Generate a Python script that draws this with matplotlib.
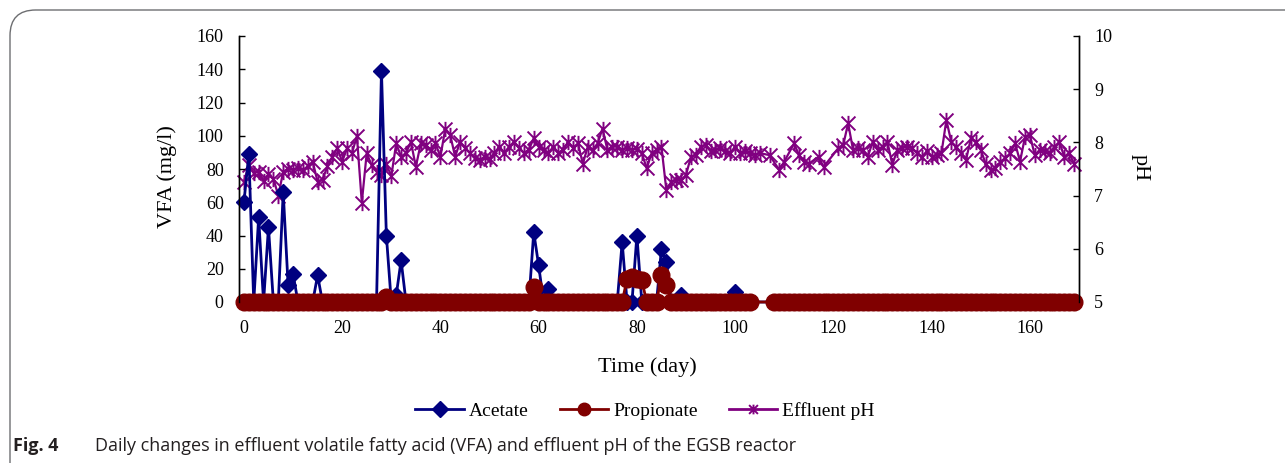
import matplotlib
matplotlib.use("Agg")
import matplotlib.pyplot as plt
import numpy as np
from matplotlib.path import Path
from matplotlib.lines import Line2D
from matplotlib.patches import FancyBboxPatch

# ---------------- data ----------------
# sampling days for VFA (no samples on days 104-107)
vfa_days = list(range(0, 104)) + list(range(108, 170))
# non-zero acetate readings (mg/l); all other sampling days read 0
acetate_peak_days = [0, 1, 3, 5, 8, 9, 10, 15, 28, 29, 31, 32, 59, 60, 62, 77, 80, 85, 86, 89, 100]
acetate_peak_vals = [60, 89, 51, 45, 66, 10, 17, 16, 139, 40, 4, 25, 42, 22, 8, 36, 40, 32, 24, 4, 6]
# non-zero propionate readings (mg/l); all other sampling days read 0
propionate_peak_days = [29, 59, 78, 79, 80, 81, 85, 86]
propionate_peak_vals = [3, 9, 14, 15, 14, 13, 16, 10]

ph_days = (list(range(0, 106)) + [107, 109, 110, 112, 113, 114, 115, 117, 118]
           + list(range(121, 170)))
ph_vals = [7.26, 7.57, 7.42, 7.45, 7.28, 7.40, 7.32, 7.00, 7.45, 7.50,
           7.48, 7.52, 7.48, 7.55, 7.64, 7.26, 7.30, 7.55, 7.73, 7.89,
           7.64, 7.89, 7.80, 8.12, 6.87, 7.80, 7.57, 7.45, 7.39, 7.60,
           7.36, 7.98, 7.73, 7.80, 8.01, 7.54, 7.98, 7.95, 7.86, 7.98,
           7.73, 8.26, 8.14, 7.73, 8.01, 7.90, 7.80, 7.70, 7.67, 7.73,
           7.68, 7.80, 7.92, 7.80, 7.92, 8.01, 7.90, 7.80, 7.86, 8.08,
           7.92, 7.86, 7.80, 7.92, 7.80, 7.86, 8.01, 7.90, 7.98, 7.60,
           7.92, 7.86, 7.98, 8.26, 7.86, 7.92, 7.92, 7.86, 7.90, 7.86,
           7.88, 7.80, 7.51, 7.80, 7.86, 7.92, 7.10, 7.26, 7.29, 7.29,
           7.39, 7.73, 7.76, 7.92, 7.95, 7.83, 7.86, 7.89, 7.83, 7.80,
           7.92, 7.80, 7.83, 7.80, 7.76, 7.80,
           7.76, 7.48, 7.64, 7.98, 7.76, 7.64, 7.60, 7.73, 7.54,
           7.89, 7.95, 8.36, 7.86, 7.89, 7.86, 7.73, 8.01, 7.86, 7.92,
           8.01, 7.58, 7.86, 7.89, 7.92, 7.89, 7.80, 7.73, 7.83, 7.73,
           7.76, 7.80, 8.42, 8.01, 7.92, 7.80, 7.67, 8.08, 8.01, 7.86,
           7.60, 7.48, 7.51, 7.64, 7.70, 7.80, 7.98, 7.64, 8.10, 8.14,
           7.76, 7.86, 7.83, 7.80, 7.92, 8.01, 7.73, 7.80, 7.60]

x_ticks = [0, 20, 40, 60, 80, 100, 120, 140, 160]
y_ticks = [0, 20, 40, 60, 80, 100, 120, 140, 160]
ph_ticks = [5, 6, 7, 8, 9, 10]

# build full VFA series from readings
acetate = [0.0] * len(vfa_days)
propionate = [0.0] * len(vfa_days)
for d, v in zip(acetate_peak_days, acetate_peak_vals):
    acetate[vfa_days.index(d)] = v
for d, v in zip(propionate_peak_days, propionate_peak_vals):
    propionate[vfa_days.index(d)] = v

# ---------------- style ----------------
NAVY = "#000080"
MAROON = "#800000"
PURPLE = "#800080"
SERIF = "Liberation Serif"

W, H = 1285, 463
fig = plt.figure(figsize=(W / 100, H / 100), dpi=100)

# rounded frame around the figure
frame = FancyBboxPatch((10 / W, -0.2), 1.2, 1.2 - 10 / H,
                       boxstyle="round,pad=0,rounding_size=0.02",
                       transform=fig.transFigure, fill=False,
                       edgecolor="#6d6e71", linewidth=1.0, clip_on=False,
                       mutation_aspect=W / H)
fig.patches.append(frame)

ax_l, ax_r, ax_t, ax_b = 239, 1079, 36, 302
ax = fig.add_axes([ax_l / W, 1 - ax_b / H, (ax_r - ax_l) / W, (ax_b - ax_t) / H])
ax2 = ax.twinx()
ax.set_zorder(ax2.get_zorder() + 1)
ax.patch.set_visible(False)

star = Path([(-1, -1), (1, 1), (-1, 1), (1, -1), (0, -1.1), (0, 1.1)],
            [Path.MOVETO, Path.LINETO, Path.MOVETO, Path.LINETO, Path.MOVETO, Path.LINETO])

ax2.plot(ph_days, ph_vals, color=PURPLE, lw=1.6, marker=star, ms=11,
         mew=1.4, mfc="none", mec=PURPLE, clip_on=False)
ax.plot(vfa_days, acetate, color=NAVY, lw=2.0, marker="D", ms=8,
        mfc=NAVY, mec=NAVY, clip_on=False)
ax.plot(vfa_days, propionate, color=MAROON, lw=2.0, marker="o", ms=12,
        mfc=MAROON, mec=MAROON, clip_on=False)

ax.set_xlim(-1, 170)
ax.set_ylim(0, 160)
ax2.set_ylim(5, 10)
ax.set_xticks(x_ticks)
ax.set_yticks(y_ticks)
ax2.set_yticks(ph_ticks)

for a in (ax, ax2):
    a.spines["top"].set_visible(False)
    a.spines["bottom"].set_visible(False)
    for s in a.spines.values():
        s.set_linewidth(1.0)
        s.set_color("black")
ax.tick_params(axis="y", direction="in", length=4.5, width=1, pad=11,
               labelsize=13, labelfontfamily=SERIF)
ax.tick_params(axis="x", direction="in", length=0, width=1, pad=13,
               labelsize=13, labelfontfamily=SERIF)
ax2.tick_params(axis="y", direction="in", length=4.5, width=1, pad=11,
                labelsize=13, labelfontfamily=SERIF)

fig.text(167 / W, 1 - 177 / H, "VFA (mg/l)", rotation=90, ha="center", va="center",
         fontsize=16, family=SERIF)
fig.text(1140 / W, 1 - 168 / H, "pH", rotation=270, ha="center", va="center",
         fontsize=16, family=SERIF)
fig.text(647 / W, 1 - 367 / H, "Time (day)", ha="center", va="center",
         fontsize=16, family=SERIF)

handles = [
    Line2D([], [], color=NAVY, lw=2, marker="D", ms=8, mfc=NAVY, mec=NAVY),
    Line2D([], [], color=MAROON, lw=2, marker="o", ms=9, mfc=MAROON, mec=MAROON),
    Line2D([], [], color=PURPLE, lw=2, marker=star, ms=7, mew=1.4, mfc="none", mec=PURPLE),
]
fig.legend(handles, ["Acetate", "Propionate", "Effluent pH"], loc="center",
           bbox_to_anchor=(645 / W, 1 - 411 / H), ncol=3, frameon=False,
           prop={"family": SERIF, "size": 14}, handlelength=2.5,
           handletextpad=0.25, columnspacing=1.6)

fig.text(13 / W, 1 - 446 / H, "Fig. 4", ha="left", va="center", fontsize=13,
         family="Open Sans", weight="bold", color="#231f20")
fig.text(95 / W, 1 - 446 / H,
         "Daily changes in effluent volatile fatty acid (VFA) and effluent pH of the EGSB reactor",
         ha="left", va="center", fontsize=13, family="Open Sans", color="#231f20")

fig.savefig("out.png", dpi=100)
